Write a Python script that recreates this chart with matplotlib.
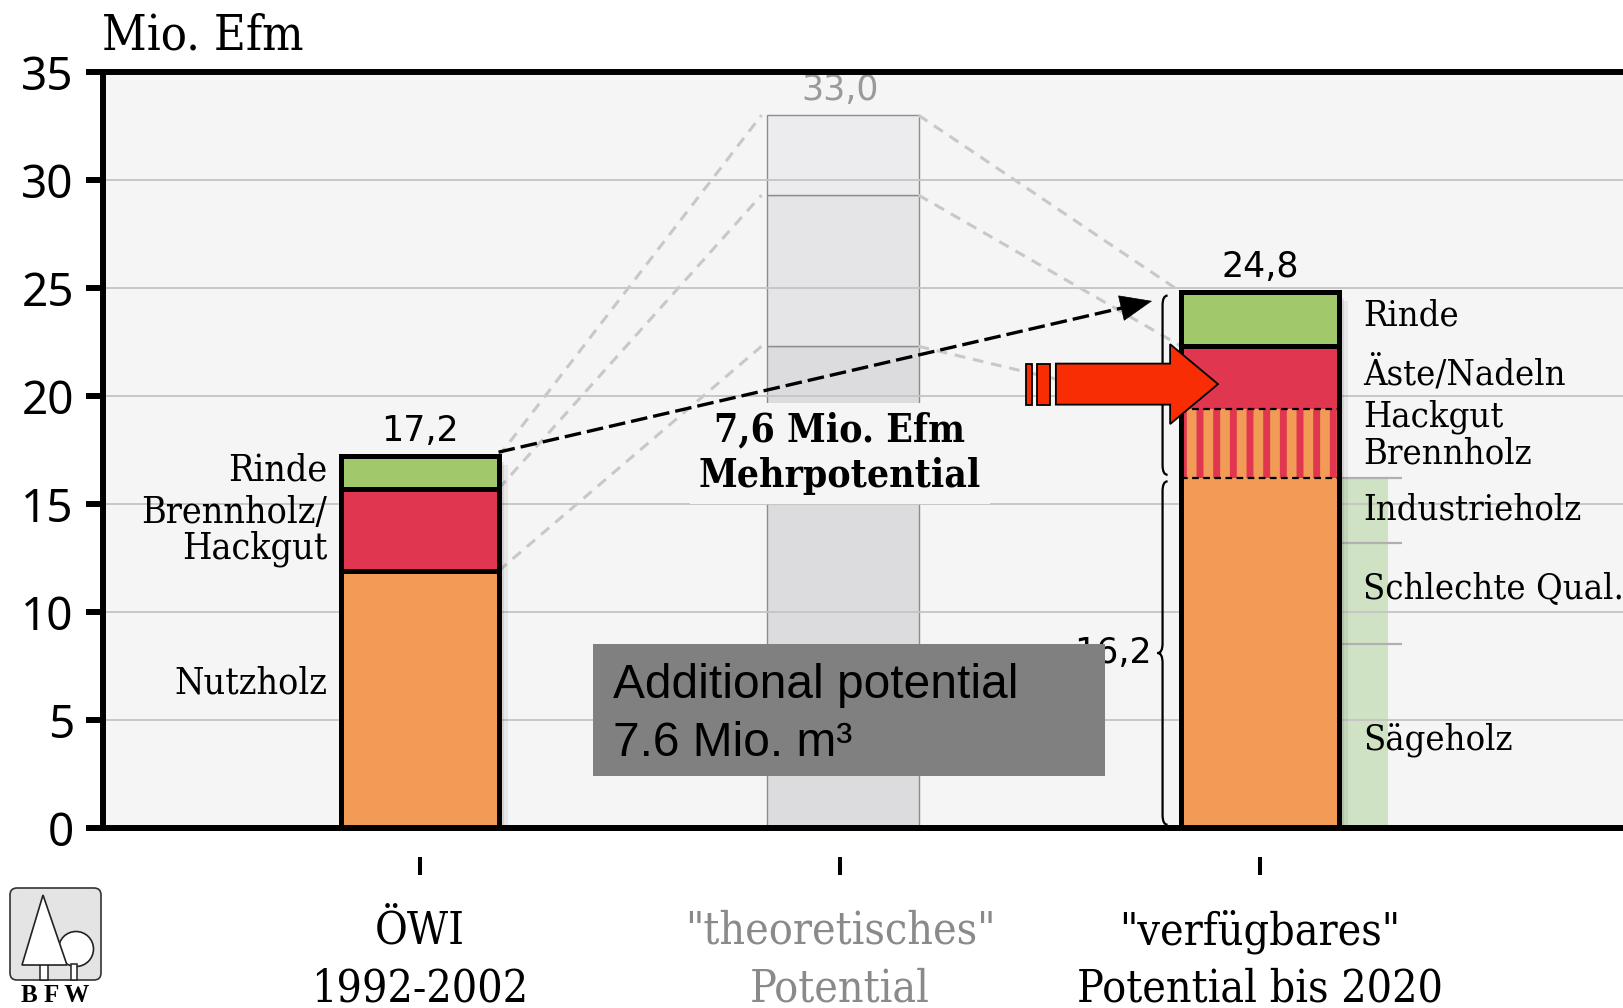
import os
import numpy as np
import matplotlib
matplotlib.use('Agg')
import matplotlib.pyplot as plt
from matplotlib import font_manager as fm
from matplotlib.patches import Rectangle, FancyArrow, FancyBboxPatch, Polygon, Circle, PathPatch
from matplotlib.path import Path
import matplotlib.patheffects as pe
import matplotlib.transforms as mtransforms

# ---------------- data ----------------
categories = ['ÖWI\n1992-2002', '"theoretisches"\nPotential', '"verfügbares"\nPotential bis 2020']
owi_labels = ['Nutzholz', 'Brennholz/\nHackgut', 'Rinde']
owi_values = [11.9, 3.8, 1.5]
theo_values = [22.3, 7.0, 3.7]
avail_labels = ['Sägeholz', 'Schlechte Qual.', 'Industrieholz', 'Hackgut\nBrennholz', 'Äste/Nadeln', 'Rinde']
avail_values = [8.5, 4.7, 3.0, 3.2, 2.9, 2.5]
totals_text = ['17,2', '33,0', '24,8']
brace_text = ['16,2', '8,6']
mehr_text = '7,6 Mio. Efm\nMehrpotential'
box_text = ['Additional potential', '7.6 Mio. m³']
yticks = [0, 5, 10, 15, 20, 25, 30, 35]
ylabel = 'Mio. Efm'

# label placement (text positions, in y units)
left_label_y = [6.71, 13.73, 16.56]
right_label_y = [4.07, 11.05, 14.76, 18.2, 21.05, 23.75]

# ---------------- styles ----------------
ORANGE = '#f19b57'
RED = '#e0364f'
GREEN = '#a1c96b'
BG = '#f5f5f5'
SANS = ['Noto Sans', 'DejaVu Sans']
NUM = ['DejaVu Sans']


def ffile(name):
    for f in fm.fontManager.ttflist:
        if os.path.basename(f.fname).lower() == name.lower():
            return f.fname
    return None


COND = ffile('DejaVuSerifCondensed.ttf')
CONDB = ffile('DejaVuSerifCondensed-Bold.ttf')


def serif(size, bold=False):
    path = CONDB if bold else COND
    if path:
        return fm.FontProperties(fname=path, size=size)
    return fm.FontProperties(family='DejaVu Serif', weight='bold' if bold else 'normal', size=size * 0.9)


W, H = 1623, 1008
fig = plt.figure(figsize=(W / 100, H / 100), dpi=100)
fig.patch.set_facecolor('white')
PX = 420.0
ax_l, ax_t, ax_b = 103, 72, 828
ext = 0.01
ax = fig.add_axes([ax_l / W, 1 - ax_b / H, (W - ax_l) / W + ext, (ax_b - ax_t) / H])
xmin = (ax_l - 420) / PX
xmax = xmin + ((W - ax_l) + ext * W) / PX
ax.set_xlim(xmin, xmax)
ax.set_ylim(0, 35)
ax.set_facecolor(BG)

x = np.arange(3)
bw = 0.374

# grid
for yv in yticks[1:-1]:
    ax.axhline(yv, color='#c4c4c4', lw=1.3, zorder=1.5)

shadow = [pe.SimplePatchShadow(offset=(2, -2), shadow_rgbFace='k', alpha=0.10),
          pe.SimplePatchShadow(offset=(4, -4), shadow_rgbFace='k', alpha=0.08),
          pe.SimplePatchShadow(offset=(7, -6), shadow_rgbFace='k', alpha=0.06),
          pe.Normal()]

# ---- middle (theoretical) bar ----
theo_colors = ['#dcdcdf', '#e5e5e8', '#ececee']
bot = 0
for v, c in zip(theo_values, theo_colors):
    ax.bar(x[1] + 0.006, v, bw - 0.012, bottom=bot, color=c, edgecolor='#8c8c8c', linewidth=1.0, zorder=1)
    bot += v
theo_cum = np.cumsum(theo_values)

# ---- left bar ----
owi_cum = np.cumsum(owi_values)
ax.bar(x[0], owi_cum[-1], bw, color=ORANGE, lw=0, zorder=3, path_effects=shadow)
bot = 0
for v, c in zip(owi_values, [ORANGE, RED, GREEN]):
    ax.bar(x[0], v, bw, bottom=bot, color=c, edgecolor='k', linewidth=3.6, zorder=4)
    bot += v

# ---- right bar ----
avail_cum = np.cumsum(avail_values)
band_w = 0.118
ax.bar(x[2] + bw / 2 + band_w / 2, avail_cum[2], band_w, color='#cfe2c3', lw=0, zorder=1.2)
ax.hlines([0] + list(avail_cum[:3]), x[2] + bw / 2, x[2] + bw / 2 + 0.151,
          color='#b0b0b0', lw=1.6, zorder=1.6)
ax.bar(x[2], avail_cum[-1], bw, color=ORANGE, lw=0, zorder=3, path_effects=shadow)
plt.rcParams['hatch.linewidth'] = 7.0
avail_colors = [ORANGE, ORANGE, ORANGE, RED, RED, GREEN]
bot = 0
for i, (v, c) in enumerate(zip(avail_values, avail_colors)):
    if i == 3:
        ax.bar(x[2], v, bw, bottom=bot, color=RED, edgecolor=ORANGE, hatch='|', linewidth=0, zorder=4)
    else:
        ax.bar(x[2], v, bw, bottom=bot, color=c, linewidth=0, zorder=4)
    bot += v
ax.bar(x[2], avail_cum[-1], bw, fill=False, edgecolor='k', linewidth=3.6, zorder=5)
ax.hlines(avail_cum[4], x[2] - bw / 2, x[2] + bw / 2, color='k', lw=3.6, zorder=5)
ax.hlines([avail_cum[2], avail_cum[3]], x[2] - bw / 2, x[2] + bw / 2, color='k', lw=1.6,
          linestyles=(0, (3, 2)), zorder=5)

# ---- grey dashed connectors ----
dash_grey = dict(color='#c8c8c8', lw=2.2, ls=(0, (3.5, 2.6)), zorder=2)
for a, b in zip(owi_cum, theo_cum):
    ax.plot([x[0] + bw / 2, x[1] - bw / 2], [a, b], **dash_grey)
for a, b in zip(theo_cum, [avail_cum[3], avail_cum[4], avail_cum[5]]):
    ax.plot([x[1] + bw / 2, x[2] - bw / 2], [a, b], **dash_grey)

# ---- totals ----
tot = [owi_cum[-1], theo_cum[-1], avail_cum[-1]]
for xi, t, s, col in zip(x, tot, totals_text, ['k', '#9a9a9a', 'k']):
    ax.annotate(s, (xi, t), xytext=(0, 6), textcoords='offset points', ha='center', va='bottom',
                fontsize=25, family=NUM, color=col, zorder=6)

# ---- labels left ----
for lab, yv in zip(owi_labels, left_label_y):
    ax.text(x[0] - bw / 2 - 0.034, yv, lab, ha='right', va='center', fontproperties=serif(27),
            linespacing=0.98, zorder=6)

# ---- labels right ----
for lab, yv in zip(avail_labels, right_label_y):
    ax.text(x[2] + bw / 2 + 0.058, yv, lab, ha='left', va='center', fontproperties=serif(26),
            linespacing=1.12, zorder=6)


# ---- braces ----
def brace(xc, y0, y1, w, gap=0.15):
    ym = (y0 + y1) / 2
    d = 0.45
    y0 += gap
    y1 -= gap
    verts = [(xc + w, y1), (xc, y1), (xc, y1 - d),
             (xc, ym + d),
             (xc, ym), (xc - w, ym),
             (xc, ym), (xc, ym - d),
             (xc, y0 + d),
             (xc, y0), (xc + w, y0)]
    codes = [Path.MOVETO, Path.CURVE3, Path.CURVE3,
             Path.LINETO,
             Path.CURVE3, Path.CURVE3,
             Path.CURVE3, Path.CURVE3,
             Path.LINETO,
             Path.CURVE3, Path.CURVE3]
    ax.add_patch(PathPatch(Path(verts, codes), fill=False, lw=1.6, color='k', zorder=5))


bx = x[2] - bw / 2 - 0.045
brace(bx, 0, avail_cum[2], 0.012)
brace(bx, avail_cum[2], avail_cum[-1], 0.012)
for s, (y0, y1) in zip(brace_text, [(0, avail_cum[2]), (avail_cum[2], avail_cum[-1])]):
    ax.text(bx - 0.025, (y0 + y1) / 2, s, ha='right', va='center', fontsize=25, family=NUM, zorder=5)

# ---- red arrow ----
tip = x[2] - bw / 2 + 0.087
ay = 20.55
alen = 0.386
ax.add_patch(FancyArrow(tip - alen, ay, alen, 0, width=1.9, head_width=3.7, head_length=0.114,
                        length_includes_head=True, fc='#f82d04', ec='k', lw=1.3, zorder=7))
ax.add_patch(Rectangle((tip - alen - 0.071, ay - 0.95), 0.0143, 1.9, fc='#f82d04', ec='k', lw=1.3, zorder=7))
ax.add_patch(Rectangle((tip - alen - 0.045, ay - 0.95), 0.031, 1.9, fc='#f82d04', ec='k', lw=1.3, zorder=7))

# ---- black dashed arrow ----
p0 = (x[0] + bw / 2, owi_cum[-1] + 0.2)
p1 = (x[2] - bw / 2 - 0.07, avail_cum[-1] - 0.4)
frac = 0.96
pm = (p0[0] + (p1[0] - p0[0]) * frac, p0[1] + (p1[1] - p0[1]) * frac)
ax.plot([p0[0], pm[0]], [p0[1], pm[1]], color='k', lw=2.4, ls=(0, (5, 1.8)), zorder=8)
ax.annotate('', xy=p1, xytext=pm,
            arrowprops=dict(arrowstyle='-|>,head_length=1.1,head_width=0.45', color='k', lw=0.5,
                            mutation_scale=20, shrinkA=0, shrinkB=0), zorder=8)

# ---- Mehrpotential text ----
ax.text(x[1], 17.35, mehr_text, ha='center', va='center', fontproperties=serif(28, bold=True),
        linespacing=1.25, zorder=7,
        bbox=dict(boxstyle='square,pad=0.22', fc=BG, ec='none'))

# ---- grey info box ----
ax.add_patch(Rectangle((0.412, 2.4), 1.219, 6.1, fc='#808080', ec='none', zorder=9))
ax.text(0.459, 6.0, box_text[0], ha='left', va='baseline', fontsize=34.5,
        family=['Liberation Sans', 'DejaVu Sans'], color='k', zorder=10)
ax.text(0.459, 3.35, box_text[1], ha='left', va='baseline', fontsize=34.5,
        family=['Liberation Sans', 'DejaVu Sans'], color='k', zorder=10)

# ---- axes styling ----
for s in ['top', 'left', 'bottom']:
    ax.spines[s].set_linewidth(4.3)
    ax.spines[s].set_color('k')
    ax.spines[s].set_zorder(10)
ax.spines['right'].set_visible(False)
ax.set_yticks(yticks)
ax.set_yticklabels([str(v) for v in yticks])
ax.tick_params(axis='y', length=12, width=4.3, direction='out', pad=9, labelsize=33)
for lab in ax.get_yticklabels():
    lab.set_family(SANS)
ax.tick_params(axis='x', bottom=False, labelbottom=False)

sec = ax.secondary_xaxis(-(857 - ax_b) / (ax_b - ax_t))
sec.set_xticks(x)
sec.set_xticklabels([])
sec.tick_params(axis='x', length=13, width=2.9, direction='out', color='k')
sec.spines['bottom'].set_visible(False)

trans = mtransforms.blended_transform_factory(ax.transData, ax.transAxes)
for xi, cat, col in zip(x, categories, ['k', '#8a8a8a', 'k']):
    l1, l2 = cat.split('\n')
    ax.text(xi, -(944 - ax_b) / (ax_b - ax_t), l1, transform=trans, ha='center', va='baseline',
            fontproperties=serif(32), color=col, clip_on=False)
    ax.text(xi, -(1002 - ax_b) / (ax_b - ax_t), l2, transform=trans, ha='center', va='baseline',
            fontproperties=serif(32), color=col, clip_on=False)

fig.text(102 / W, 1 - 49 / H, ylabel, ha='left', va='baseline', fontproperties=serif(35))

# ---- BFW logo ----
lax = fig.add_axes([8 / W, 1 - 1005 / H, 94 / W, 120 / H])
lax.set_xlim(0, 94)
lax.set_ylim(120, 0)
lax.axis('off')
lax.add_patch(FancyBboxPatch((2, 3), 91, 92, boxstyle='round,pad=0,rounding_size=7',
                             fc='#e4e4e4', ec='#333333', lw=1.2))
lax.add_patch(Circle((68, 64), 17.5, fc='white', ec='#222222', lw=1.2))
lax.add_patch(Rectangle((62.5, 79), 6, 16, fc='white', ec='#222222', lw=1.1))
lax.add_patch(Rectangle((32, 79), 8, 16, fc='white', ec='#222222', lw=1.1))
lax.add_patch(Polygon([(35, 10), (14, 80), (59, 80)], closed=True, fc='white', ec='#222222', lw=1.2))
lax.text(47, 111, 'B F W', ha='center', va='center', fontsize=18,
         family=['Liberation Serif', 'DejaVu Serif'], weight='bold')

fig.savefig('out.png', dpi=100, facecolor='white')
